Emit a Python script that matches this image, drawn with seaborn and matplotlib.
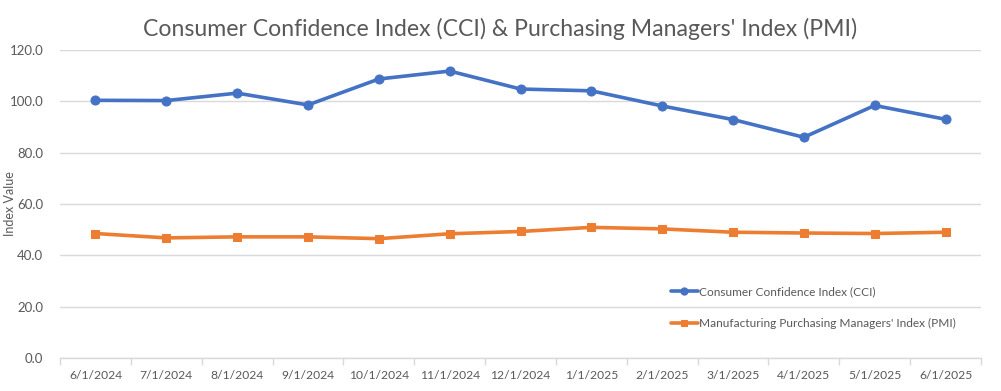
import pandas as pd
import numpy as np
import matplotlib
matplotlib.use("Agg")
import matplotlib.pyplot as plt
from matplotlib.ticker import FixedLocator, FormatStrFormatter
import seaborn as sns

# data
dates = ['6/1/2024', '7/1/2024', '8/1/2024', '9/1/2024', '10/1/2024', '11/1/2024',
         '12/1/2024', '1/1/2025', '2/1/2025', '3/1/2025', '4/1/2025', '5/1/2025', '6/1/2025']
cci = [100.4, 100.3, 103.2, 98.6, 108.7, 111.8, 104.8, 104.1, 98.2, 92.9, 86.0, 98.4, 93.0]
pmi = [48.5, 46.8, 47.2, 47.2, 46.5, 48.4, 49.3, 50.9, 50.3, 49.0, 48.7, 48.5, 49.0]
cci_name = 'Consumer Confidence Index (CCI)'
pmi_name = "Manufacturing Purchasing Managers' Index (PMI)"

blue = '#4472C4'
orange = '#ED7D31'
text_grey = '#595959'
grid_grey = '#D9D9D9'

sns.set_theme(style='white')
plt.rcParams['font.family'] = ['Lato', 'DejaVu Sans']

fig = plt.figure(figsize=(10.01, 3.91), dpi=100)
ax = fig.add_axes([0.06, 0.0844, 0.92, 0.7877])

df = pd.DataFrame({'date': dates, 'cci': cci, 'pmi': pmi})
sns.lineplot(data=df, x='date', y='cci', ax=ax, color=blue, lw=2.6, marker='o',
             markersize=6.5, markeredgecolor=blue, label=cci_name, sort=False)
sns.lineplot(data=df, x='date', y='pmi', ax=ax, color=orange, lw=2.6, marker='s',
             markersize=6, markeredgecolor=orange, label=pmi_name, sort=False)

ax.set_ylim(0, 120)
ax.set_xlim(-0.5, len(dates) - 0.5)
ax.set_yticks(np.arange(0, 121, 20))
ax.yaxis.set_major_formatter(FormatStrFormatter('%.1f'))
ax.yaxis.grid(True, color=grid_grey, lw=1)
ax.set_axisbelow(True)
for s in ['top', 'right', 'left']:
    ax.spines[s].set_visible(False)
ax.spines['bottom'].set_color(grid_grey)
ax.spines['bottom'].set_linewidth(1)

ax.tick_params(axis='y', length=0, pad=12, labelsize=9.5, labelcolor=text_grey)
ax.tick_params(axis='x', which='major', length=0, pad=9, labelsize=8.7, labelcolor=text_grey)
ax.xaxis.set_minor_locator(FixedLocator(np.arange(-0.5, len(dates), 1)))
ax.tick_params(axis='x', which='minor', length=5, width=1, color=grid_grey, bottom=True)

ax.set_xlabel('')
ax.set_ylabel('Index Value', fontsize=9, color=text_grey)
ax.yaxis.set_label_coords(-0.048, 0.5)

fig.suptitle("Consumer Confidence Index (CCI) & Purchasing Managers' Index (PMI)",
             x=0.5, y=0.955, fontsize=16.6, color=text_grey)

leg = ax.legend(loc='center left', bbox_to_anchor=(0.652, 0.163), frameon=False,
                fontsize=8.6, labelspacing=1.75, handlelength=2.2, handletextpad=0.1,
                markerscale=0.8)
for t in leg.get_texts():
    t.set_color(text_grey)

fig.savefig('out.png', dpi=100)
